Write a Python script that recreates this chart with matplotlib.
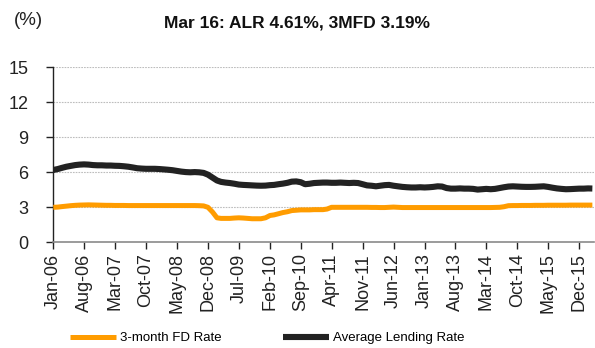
import matplotlib
matplotlib.use("Agg")
import matplotlib.pyplot as plt
from matplotlib import font_manager
import pandas as pd

# Monthly series, Jan-2006 .. Mar-2016 (%)
alr = [6.20, 6.28, 6.38, 6.48, 6.55, 6.62, 6.66, 6.68, 6.66, 6.62, 6.60, 6.60,
       6.58, 6.58, 6.56, 6.55, 6.52, 6.48, 6.42, 6.35, 6.32, 6.30, 6.30, 6.30,
       6.28, 6.25, 6.22, 6.18, 6.12, 6.06, 6.02, 6.00, 6.02, 6.00, 5.95, 5.80,
       5.55, 5.30, 5.18, 5.12, 5.08, 5.02, 4.95, 4.92, 4.90, 4.88, 4.86, 4.85,
       4.86, 4.90, 4.92, 4.98, 5.03, 5.10, 5.20, 5.22, 5.15, 4.98, 5.02, 5.08,
       5.10, 5.12, 5.12, 5.10, 5.10, 5.12, 5.10, 5.08, 5.10, 5.08, 4.98, 4.88,
       4.85, 4.80, 4.85, 4.90, 4.92, 4.85, 4.80, 4.75, 4.72, 4.70, 4.70, 4.72,
       4.70, 4.72, 4.75, 4.80, 4.78, 4.65, 4.60, 4.60, 4.62, 4.60, 4.60, 4.58,
       4.52, 4.55, 4.58, 4.55, 4.58, 4.65, 4.72, 4.78, 4.80, 4.78, 4.76, 4.75,
       4.75, 4.76, 4.78, 4.80, 4.75, 4.68, 4.62, 4.58, 4.55, 4.56, 4.58, 4.60,
       4.60, 4.62, 4.61]

fd3m = [3.00, 3.02, 3.06, 3.10, 3.14, 3.17, 3.19, 3.20, 3.21, 3.20, 3.19, 3.18,
        3.17, 3.17, 3.16, 3.16, 3.16, 3.15, 3.15, 3.15, 3.15, 3.15, 3.15, 3.15,
        3.15, 3.15, 3.15, 3.15, 3.15, 3.15, 3.15, 3.15, 3.15, 3.14, 3.12, 3.00,
        2.60, 2.10, 2.05, 2.05, 2.05, 2.08, 2.10, 2.08, 2.05, 2.02, 2.02, 2.02,
        2.10, 2.30, 2.35, 2.45, 2.55, 2.62, 2.72, 2.75, 2.78, 2.78, 2.78, 2.80,
        2.80, 2.80, 2.85, 3.00, 3.00, 3.00, 3.00, 3.00, 3.00, 3.00, 3.00, 3.00,
        2.99, 2.99, 2.98, 2.98, 3.00, 3.02, 3.00, 2.98, 2.98, 2.98, 2.98, 2.98,
        2.98, 2.98, 2.98, 2.98, 2.98, 2.98, 2.98, 2.98, 2.98, 2.98, 2.98, 2.98,
        2.98, 2.98, 2.98, 2.98, 2.99, 3.00, 3.05, 3.14, 3.15, 3.15, 3.16, 3.16,
        3.16, 3.17, 3.17, 3.17, 3.18, 3.18, 3.18, 3.18, 3.18, 3.19, 3.19, 3.19,
        3.19, 3.19, 3.19]

months = pd.date_range("2006-01-01", periods=len(alr), freq="MS")
tick_dates = months[::7]
tick_labels = [d.strftime("%b-%y") for d in tick_dates]

names = {f.name for f in font_manager.fontManager.ttflist}
narrow = "Liberation Sans Narrow" if "Liberation Sans Narrow" in names else "Liberation Sans"
plt.rcParams["font.family"] = [narrow, "DejaVu Sans"]

fig = plt.figure(figsize=(5.95, 3.48), dpi=100)
ax = fig.add_axes([0.0896, 0.3037, 0.9084, 0.5029])

ax.plot(months, fd3m, color="#FF9C00", lw=3.6, solid_capstyle="butt",
        label="3-month FD Rate", zorder=3)
ax.plot(months, alr, color="#222222", lw=4.4, solid_capstyle="butt",
        label="Average Lending Rate", zorder=4)

ax.set_ylim(0, 15)
ax.set_yticks([0, 3, 6, 9, 12, 15])
ax.set_xlim(months[0], months[-1] + pd.Timedelta(days=10))
ax.set_xticks(tick_dates)
ax.set_xticklabels(tick_labels, rotation=90)

for y in [3, 6, 9, 12, 15]:
    ax.axhline(y, color="#BDBDBD", lw=0.8, ls=(0, (1.5, 1.0)), zorder=1)

for s in ["top", "right"]:
    ax.spines[s].set_visible(False)
ax.spines["left"].set_color("#222222")
ax.spines["left"].set_linewidth(1.0)
ax.spines["bottom"].set_color("#8A8A8A")
ax.spines["bottom"].set_linewidth(1.2)

ax.tick_params(axis="both", colors="#222222", labelsize=13, length=5, width=1.0)
ax.tick_params(axis="y", pad=13)
ax.tick_params(axis="x", pad=3)

fig.text(0.5, 0.935, "Mar 16: ALR 4.61%, 3MFD 3.19%", ha="center", va="center",
         fontsize=12.5, fontweight="bold", color="#111111")
fig.text(0.024, 0.94, "(%)", ha="left", va="center", fontsize=13.5, color="#222222")

fig.legend(loc="center left", bbox_to_anchor=(0.118, 0.028), ncol=2, frameon=False,
           fontsize=9.5, handlelength=3.5, handletextpad=0.3, columnspacing=4.6,
           borderpad=0.0, borderaxespad=0.0)

fig.savefig("out.png", dpi=100)
